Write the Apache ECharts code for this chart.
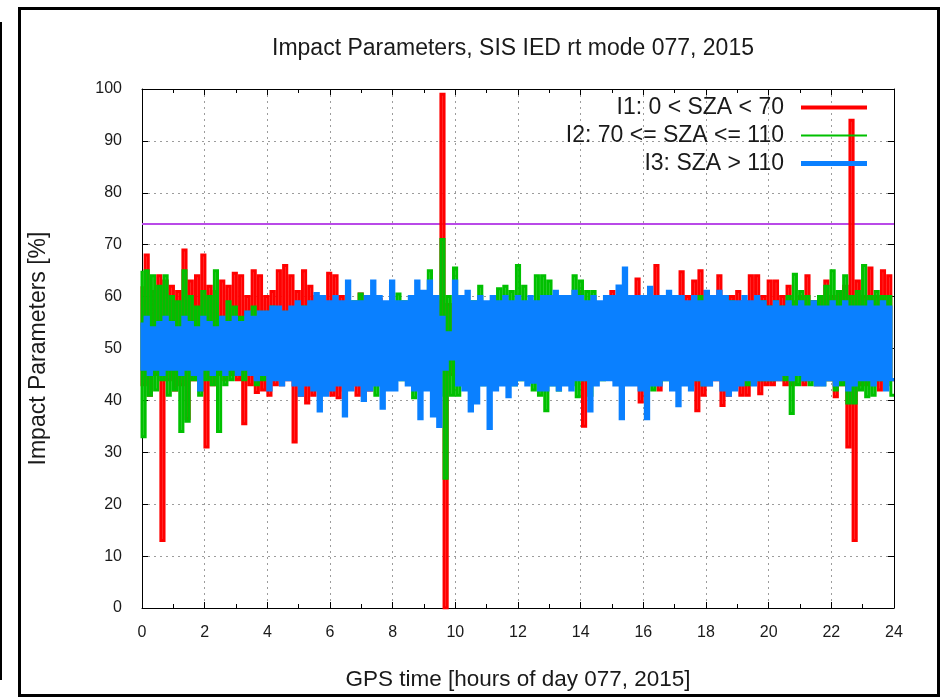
<!DOCTYPE html>
<html>
<head>
<meta charset="utf-8">
<script src="https://cdn.jsdelivr.net/npm/echarts@6/dist/echarts.min.js"></script>
<style>
  html, body { margin: 0; padding: 0; background: #fff; }
  #chart { width: 943px; height: 697px; }
</style>
</head>
<body>
<div id="chart"></div>
<script>
// Impact parameters over the day, one upper and one lower excursion per 0.2 h bin.
const seriesNames = ['I1: 0 < SZA < 70', 'I2: 70 <= SZA <= 110', 'I3: SZA > 110'];
const thresholdValue = 74;
const xTicks = [0, 24, 2];     // min, max, step (hours)
const yTicks = [0, 100, 10];   // min, max, step (%)

// I1 (red)
const redHi = [
  62, 68, 61, 64, 63,   62, 61, 69, 63, 64,   68, 62, 61, 63, 62,   64.5, 64, 60, 65, 64,
  60, 61, 65, 66, 64,   61, 65, 62, 60, 59,   64.5, 64, 60, 59, 58, 60.5, 59, 58, 59.5, 58,
  58, 57, 57.5, 58, 57, 57, 58, 59, 99, 58.5,  59, 57, 58, 57, 58,   57, 58, 57, 58, 57,
  57, 58, 57, 58, 57,   58, 57, 58, 57, 58,   61, 58, 59, 58, 58,   61, 59, 58, 60, 63.4,
  59, 60, 66, 60, 59,   60, 64.8, 60, 63, 65, 61, 60, 64, 60, 60,   61, 59, 64, 64, 60,
  63, 63, 60, 62, 59,   60, 64, 59, 60, 63,   60, 61, 62, 94, 63,   60, 65.5, 60, 65, 64
];
const redLo = [
  43, 41, 45, 13, 44,   42, 43, 36.5, 44, 42, 31, 43, 45, 44, 45,   44, 35.5, 43, 41.5, 42,
  41, 43, 43, 44, 32,   41, 39.5, 41, 43, 42, 41, 40.5, 42, 43, 41,  41, 42, 44, 43, 44,
  44.5, 45, 44, 44, 45, 45, 45, 46, 0, 45,    45, 46, 45, 46, 45,   46, 45, 46, 45, 46,
  46, 46, 46, 46, 46,   46, 46, 46, 46, 46,   35, 45, 45, 45.5, 45,  44, 45, 44, 45, 39.7,
  45, 44, 42, 45, 45,   45, 44, 43, 38, 41,   43, 44, 39, 41, 43,   41, 41, 44, 41.3, 43,
  43, 44, 43, 43, 45,   43, 44, 43, 44, 44,   40.7, 43, 31, 13, 43, 43, 44, 42, 43, 44
];

// I2 (green)
const greenHi = [
  65, 65, 64, 62, 64,   60, 59, 65, 60, 58,   61, 60, 65, 56, 59,   58, 56, 57, 58, 57,
  57, 58, 56, 57, 57,   57, 58, 57, 58, 58,   58, 57, 58, 57, 59,   60.5, 58, 57, 58, 57,
  58, 60.5, 59, 60, 58, 58, 65, 60, 71, 60,   65.5, 60, 58, 59, 62, 58, 59, 61.5, 62, 61,
  66, 62, 59, 64, 64,   63, 60, 59, 60, 64,   63, 61, 61, 58, 59,   58, 58, 58, 59, 60,
  60, 59, 58, 59, 58,   58, 59, 58, 58, 60,   58, 59, 58, 60, 59,   58, 59, 58.7, 58, 59,
  58, 59, 58, 60, 64.3, 61, 60, 59, 60, 62,   65, 61, 64, 60, 61,   66, 60, 61, 60, 60
];
const greenLo = [
  33, 41, 42, 44, 41,   42, 34, 36, 44, 41,   44, 43, 34, 43, 44,   45, 44, 46, 43, 44,
  45, 46, 44, 45, 45,   45, 45, 46, 45, 46,   45, 46, 45, 46, 44,   44, 45, 41, 45, 44,
  45, 44, 44, 40.5, 43, 44, 42, 41, 25, 41,   41, 43.5, 44, 44, 43, 44, 44, 45, 44, 43,
  44, 45, 42, 41, 38,   43, 42, 44, 43, 40.7, 44, 41, 44, 44, 45,  45, 45, 45, 45, 44,
  44, 42, 43.5, 44, 44, 45, 44, 45, 44, 43,   44, 45, 44, 45, 43,   44, 43, 44, 44, 44,
  44, 45, 44, 37.5, 43, 44, 43, 44, 43, 44,   42, 43, 39.5, 39.5, 42, 40.7, 41, 44, 43, 41
];

// I3 (blue)
const blueHi = [
  55, 56, 54, 55, 56,   55, 54, 56, 55, 54,   56, 55, 54, 56, 55,   56, 55, 57, 56, 57,
  57, 58, 58, 57, 58,   59, 58, 59, 60.6, 60, 59, 60, 59, 63, 59,   59, 60, 63, 60, 59,
  63, 59, 59, 60, 63,   61, 63, 60, 56, 53,   63, 60, 61, 59, 60,   59, 60, 59, 60, 59,
  60, 59, 60, 59, 60,   60, 61, 60, 60, 61,   60, 59, 60, 59, 60,   60, 62, 65.5, 60, 60,
  60, 61.8, 60, 60, 61, 60, 60, 59, 60, 59,   61, 60, 61, 60, 59,   59, 60, 59, 60, 59,
  58, 59, 58, 59, 58,   59, 58, 59, 58, 58,   59, 58, 59, 58, 58,   58, 59, 58, 59, 58
];
const blueLo = [
  46, 45, 46, 45, 46,   46, 45, 46, 45, 42,   46, 45, 46, 45, 46,   45, 46, 45, 44, 45,
  42, 44, 43, 44, 43,   41, 43, 42, 38, 41,   42, 43, 37, 42, 43,   40, 42, 43, 38.5, 42,
  42, 44, 43, 42, 36.5, 42, 37, 35, 46, 48,   43, 42, 38, 39.5, 43, 34.6, 42, 43, 40.7, 43,
  44, 43, 43.5, 42, 42, 43, 42, 43, 42, 44,   44, 38, 43, 44, 44,   43, 36.5, 43, 43, 42,
  36.5, 43, 43, 44, 42, 39, 43, 42, 44, 43,   43, 44, 42, 41, 42,   43, 44, 43, 44, 44,
  44, 44, 45, 44, 45,   44, 44, 43, 43, 44,   43, 44, 42, 43, 44,   44, 43, 44, 42, 44
];

// Interleave each bin's upper and lower value into one trace spread over the day.
function trace(hi, lo) {
  const n = hi.length * 2;
  const out = [];
  for (let i = 0; i < hi.length; i++) {
    out.push([xTicks[1] * (2 * i) / (n - 1), hi[i]]);
    out.push([xTicks[1] * (2 * i + 1) / (n - 1), lo[i]]);
  }
  return out;
}

const FONT = '"Liberation Sans", Arial, sans-serif';
const TEXT = '#1a1a1a';
const gridLine = { show: true, lineStyle: { color: '#9c9c9c', width: 1, type: [2, 4] } };

function legendRow(name, top, thickness) {
  return {
    data: [{ name: name, icon: 'rect' }],
    right: 76, top: top, orient: 'vertical', align: 'right',
    itemWidth: 66, itemHeight: thickness, padding: 0, selectedMode: false,
    textStyle: { fontFamily: FONT, fontSize: 23, color: TEXT, padding: [0, 12, 0, 0] }
  };
}

function traceSeries(name, hi, lo, color, width) {
  return {
    name: name, type: 'line', step: 'start', symbol: 'none', data: trace(hi, lo),
    lineStyle: { color: color, width: width, join: 'miter' }, itemStyle: { color: color }
  };
}

const chart = echarts.init(document.getElementById('chart'), null, { renderer: 'canvas' });
chart.setOption({
  animation: false,
  backgroundColor: '#ffffff',
  title: {
    text: 'Impact Parameters, SIS IED rt mode 077, 2015',
    left: 513, top: 37, textAlign: 'center', padding: 0,
    textStyle: { fontFamily: FONT, fontSize: 23, fontWeight: 'normal', color: TEXT }
  },
  legend: [
    legendRow(seriesNames[0], 96, 4),
    legendRow(seriesNames[1], 124, 2),
    legendRow(seriesNames[2], 152, 5)
  ],
  grid: { left: 142, right: 49, top: 89, bottom: 89, containLabel: false, outerBoundsMode: 'none' },
  xAxis: [
    {
      type: 'value', position: 'bottom', min: xTicks[0], max: xTicks[1], interval: xTicks[2],
      name: 'GPS time [hours of day 077, 2015]', nameLocation: 'middle', nameGap: 60,
      nameTextStyle: { fontFamily: FONT, fontSize: 22.5, color: TEXT },
      axisLine: { show: true, onZero: false, lineStyle: { color: '#000', width: 1 } },
      axisTick: { show: true, inside: true, length: 6, lineStyle: { color: '#000' } },
      minorTick: { show: true, splitNumber: 2, length: 4, lineStyle: { color: '#000' } },
      axisLabel: { margin: 17, fontFamily: FONT, fontSize: 16, color: TEXT },
      splitLine: gridLine
    },
    {
      type: 'value', position: 'top', min: xTicks[0], max: xTicks[1], interval: xTicks[2],
      axisLine: { show: true, onZero: false, lineStyle: { color: '#000', width: 1 } },
      axisTick: { show: true, inside: true, length: 6, lineStyle: { color: '#000' } },
      minorTick: { show: true, splitNumber: 2, length: 4, lineStyle: { color: '#000' } },
      axisLabel: { show: false }, splitLine: { show: false }
    }
  ],
  yAxis: [
    {
      type: 'value', position: 'left', min: yTicks[0], max: yTicks[1], interval: yTicks[2],
      name: 'Impact Parameters [%]', nameLocation: 'middle', nameGap: 92,
      nameTextStyle: { fontFamily: FONT, fontSize: 23, color: TEXT },
      axisLine: { show: true, onZero: false, lineStyle: { color: '#000', width: 1 } },
      axisTick: { show: true, inside: true, length: 6, lineStyle: { color: '#000' } },
      axisLabel: { margin: 20, fontFamily: FONT, fontSize: 16, color: TEXT },
      splitLine: gridLine
    },
    {
      type: 'value', position: 'right', min: yTicks[0], max: yTicks[1], interval: yTicks[2],
      axisLine: { show: true, onZero: false, lineStyle: { color: '#000', width: 1 } },
      axisTick: { show: true, inside: true, length: 6, lineStyle: { color: '#000' } },
      axisLabel: { show: false }, splitLine: { show: false }
    }
  ],
  series: [
    {
      name: 'threshold', type: 'line', symbol: 'none', silent: true,
      data: [[xTicks[0], thresholdValue], [xTicks[1], thresholdValue]],
      lineStyle: { color: '#b94ae8', width: 2 }, itemStyle: { color: '#b94ae8' }
    },
    traceSeries(seriesNames[0], redHi, redLo, '#ff0000', 3),
    traceSeries(seriesNames[1], greenHi, greenLo, '#00c000', 3),
    traceSeries(seriesNames[2], blueHi, blueLo, '#0a80ff', 3.2)
  ],
  graphic: [
    { type: 'rect', silent: true, z: 100,
      shape: { x: 19.5, y: 8.5, width: 919, height: 687 },
      style: { fill: null, stroke: '#000', lineWidth: 3 } },
    { type: 'line', silent: true, z: 100,
      shape: { x1: 1, y1: 22, x2: 1, y2: 680 },
      style: { stroke: '#000', lineWidth: 2 } }
  ]
});
</script>
</body>
</html>
